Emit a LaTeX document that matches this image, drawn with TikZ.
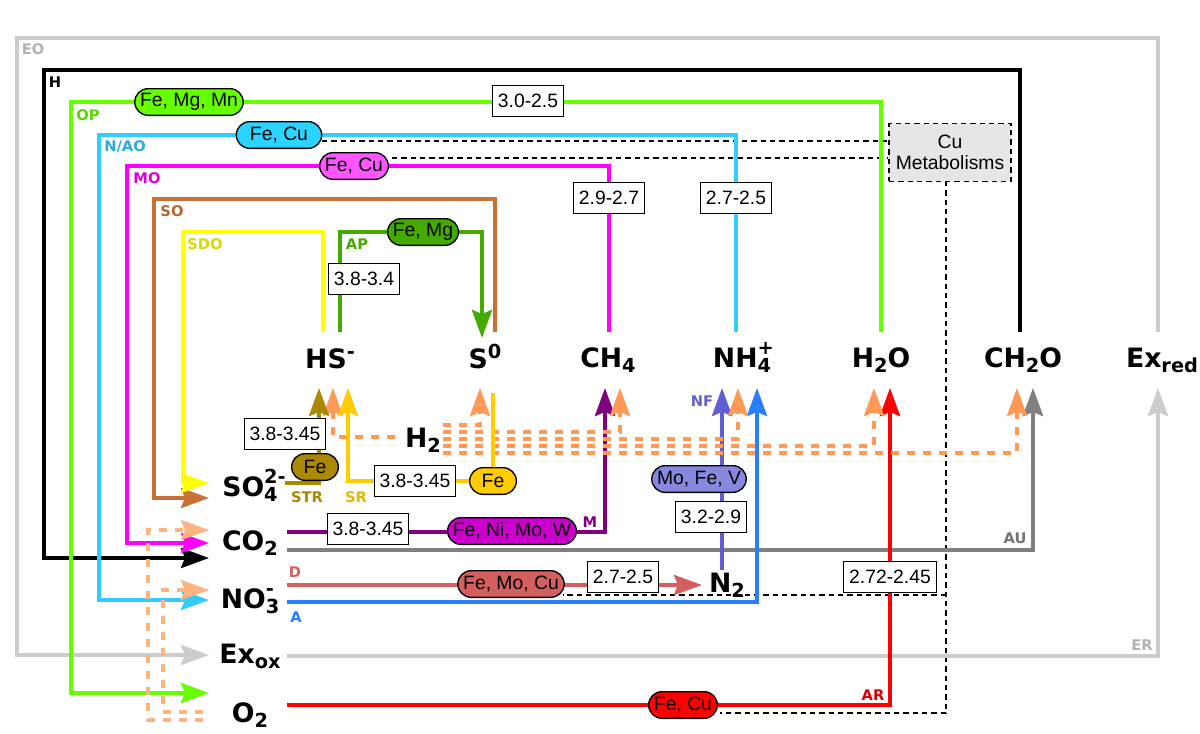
\documentclass[tikz,border=0pt]{standalone}
\usepackage{fontspec}
\setmainfont{Liberation Sans}
\newfontfamily\dejavu{DejaVu Sans}
\usetikzlibrary{arrows.meta}
\definecolor{cEO}{HTML}{CCCCCC}
\definecolor{cOP}{HTML}{66FF00}
\definecolor{cNAO}{HTML}{33CCFF}
\definecolor{cMO}{HTML}{FF00FF}
\definecolor{cSO}{HTML}{C87137}
\definecolor{cSDO}{HTML}{FFFF00}
\definecolor{cAP}{HTML}{44AA00}
\definecolor{cSTR}{HTML}{AA8800}
\definecolor{cSR}{HTML}{FFCC00}
\definecolor{cM}{HTML}{800080}
\definecolor{cMpill}{HTML}{CC00CC}
\definecolor{cAU}{HTML}{808080}
\definecolor{cD}{HTML}{D35F5F}
\definecolor{cA}{HTML}{2A7FFF}
\definecolor{cNF}{HTML}{5F5FD3}
\definecolor{cNFpill}{HTML}{8787DE}
\definecolor{cAR}{HTML}{FF0000}
\definecolor{cHtwo}{HTML}{FF9955}
\definecolor{cLt}{HTML}{FFB380}
\definecolor{cCyanPill}{HTML}{2AD4FF}
\definecolor{cMagPill}{HTML}{FF55FF}
\definecolor{cCu}{HTML}{E6E6E6}
\newcommand{\chdn}[1]{\raisebox{-4pt}{\fontsize{14.5}{14.5}\selectfont #1}}
\newcommand{\chup}[1]{\raisebox{7pt}{\fontsize{14.5}{14.5}\selectfont #1}}
\newcommand{\chhi}[1]{\raisebox{9.5pt}{\fontsize{14.5}{14.5}\selectfont #1}}
\newcommand{\chud}[2]{\makebox[0pt][l]{\chhi{#1}}\chdn{#2}}
\tikzset{
  ln/.style={line width=3pt},
  arw/.style={-{Stealth[length=21pt,width=15pt,inset=3pt]}},
  h2d/.style={cHtwo, line width=2.6pt, dash pattern=on 6pt off 6pt},
  ltd/.style={cLt, line width=2.6pt, dash pattern=on 6pt off 6pt},
  cud/.style={draw=black, line width=0.9pt, dash pattern=on 4pt off 3pt},
  box/.style={draw, fill=white, line width=1pt, font=\fontsize{14.5}{14.5}\selectfont, inner xsep=4pt, inner ysep=0pt, minimum height=23pt},
  pill/.style={draw, line width=1pt, rounded corners=10pt, font=\fontsize{14.5}{14.5}\selectfont, inner xsep=4pt, inner ysep=0pt, minimum height=20pt},
  sp/.style={font=\dejavu\bfseries\fontsize{20}{20}\selectfont, inner sep=0pt, anchor=base},
  lab/.style={font=\dejavu\bfseries\fontsize{11}{11}\selectfont, inner sep=0pt}
}
\begin{document}
\begin{tikzpicture}[x=0.75pt,y=-0.75pt]
\useasboundingbox (0,0) rectangle (1200,733);
\fill[white] (0,0) rectangle (1200,733);

% species
\node[sp] (hs) at (330,368) {HS\chup{-}};
\node[sp] (s0) at (485,368) {S\chup{0}};
\node[sp] (ch4) at (608,367) {CH\chdn{4}};
\node[sp] (nh4) at (742,367) {NH\chud{+}{4}};
\node[sp] (h2o) at (881,367) {H\chdn{2}O};
\node[sp] (ch2o) at (1023,367) {CH\chdn{2}O};
\node[sp] (exred) at (1162,367) {Ex\chdn{red}};
\node[sp] (h2) at (423,447) {H\chdn{2}};
\node[sp] (so4) at (250,496) {SO\chud{2-}{4}};
\node[sp] (co2) at (250,550) {CO\chdn{2}};
\node[sp] (no3) at (250,608) {NO\chud{-}{3}};
\node[sp] (exox) at (250,663) {Ex\chdn{ox}};
\node[sp] (o2) at (250,722) {O\chdn{2}};
\node[sp] (n2) at (727,592) {N\chdn{2}};

% Cu metabolism dashed links
\node[cud, fill=cCu, minimum width=91.5pt, minimum height=43pt, align=center, font=\fontsize{14.5}{16}\selectfont, inner sep=0pt] (cu) at (950,152.5) {Cu\\Metabolisms};
\draw[cud] (322,141) -- (cu.west |- 0,141);
\draw[cud] (392,158) -- (cu.west |- 0,158);
\draw[cud] (946,181) -- (946,713) -- (720,713);
\draw[cud] (946,595) -- (563,595);

% big loops
\draw[ln, cEO, arw] (1158,332) -- (1158,38) -- (17,38) -- (17,655) -- (209,655);
\draw[ln, cEO, arw] (287,656) -- (1158,656) -- (1158,388);
\draw[ln, black, arw] (1020,332) -- (1020,70) -- (44,70) -- (44,558) -- (209,558);
\draw[ln, cOP, arw] (881,332) -- (881,102) -- (71,102) -- (71,693) -- (209,693);
\draw[ln, cNAO, arw] (736,332) -- (736,135) -- (99,135) -- (99,600) -- (209,600);
\draw[ln, cMO, arw] (609,332) -- (609,166) -- (127,166) -- (127,543) -- (209,543);
\draw[ln, cSO, arw] (495,332) -- (495,199) -- (154,199) -- (154,498) -- (209,498);
\draw[ln, cSDO, arw] (323,332) -- (323,232) -- (183,232) -- (183,483) -- (209,483);
\draw[ln, cAP, arw] (340,332) -- (340,232) -- (482,232) -- (482,338);

% lower reactions
\draw[ln, cAU, arw] (287,550) -- (1033,550) -- (1033,388);
\draw[ln, cM, arw] (287,532) -- (605,532) -- (605,388);
\draw[ln, cD, arw] (287,585) -- (702,585);
\draw[ln, cA, arw] (287,602) -- (757,602) -- (757,388);
\draw[ln, cNF, arw] (722,570) -- (722,388);
\draw[ln, cAR, arw] (287,705) -- (890,705) -- (890,388);

% H2 dashed
\draw[h2d, arw] (395,437) -- (333,437) -- (333,388);
\draw[h2d, arw] (443,425) -- (480,425) -- (480,388);
\draw[h2d, arw] (443,432) -- (620,432) -- (620,388);
\draw[h2d, arw] (443,439) -- (738,439) -- (738,388);
\draw[h2d, arw] (443,446) -- (874,446) -- (874,388);
\draw[h2d, arw] (443,453) -- (1017,453) -- (1017,388);
\draw[ltd, arw] (203,720) -- (148,720) -- (148,530) -- (209,530);
\draw[ltd, arw] (203,712) -- (163,712) -- (163,590) -- (209,590);

% sulfate reductions
\draw[ln, cSTR, arw] (285,483) -- (319,483) -- (319,388);
\draw[ln, cSR, arw] (493,393) -- (493,481) -- (348,481) -- (348,388);

% boxes
\node[box] (b1) at (528,101) {3.0-2.5};
\node[box] (b2) at (609,198) {2.9-2.7};
\node[box] (b3) at (736,198) {2.7-2.5};
\node[box] (b4) at (364,279) {3.8-3.4};
\node[box] (b5) at (285,434) {3.8-3.45};
\node[box] (b6) at (415,481) {3.8-3.45};
\node[box] (b7) at (368,529) {3.8-3.45};
\node[box] (b8) at (711,517) {3.2-2.9};
\node[box] (b9) at (623,577) {2.7-2.5};
\node[box] (b10) at (890,577) {2.72-2.45};

% pills
\node[pill, fill=cOP] (p1) at (189,102) {Fe, Mg, Mn};
\node[pill, fill=cCyanPill, minimum width=64pt] (p2) at (279,135) {Fe, Cu};
\node[pill, fill=cMagPill] (p3) at (354,166) {Fe, Cu};
\node[pill, fill=cAP] (p4) at (423,232) {Fe, Mg};
\node[pill, fill=cSTR, minimum width=35pt] (p5) at (315,467) {Fe};
\node[pill, fill=cSR, minimum width=35pt] (p6) at (493,481) {Fe};
\node[pill, fill=cMpill] (p7) at (512,531) {Fe, Ni, Mo, W};
\node[pill, fill=cNFpill] (p8) at (699,479) {Mo, Fe, V};
\node[pill, fill=cD] (p9) at (511,584) {Fe, Mo, Cu};
\node[pill, fill=cAR] (p10) at (683,705) {Fe, Cu};

% path labels
\node[lab, text=black!30] at (33,49) {EO};
\node[lab, text=black] at (55,82) {H};
\node[lab, text=cOP!85!black] at (88,115) {OP};
\node[lab, text=cNAO!85!black] at (125,147) {N/AO};
\node[lab, text=cMO!85!black] at (147,178) {MO};
\node[lab, text=cSO!90!black] at (172,211) {SO};
\node[lab, text=cSDO!85!black] at (205,244) {SDO};
\node[lab, text=cAP] at (357,244) {AP};
\node[lab, text=cSTR] at (307,497) {STR};
\node[lab, text=cSR!90!black] at (356,497) {SR};
\node[lab, text=cM] at (590,522) {M};
\node[lab, text=cNF] at (702,401) {NF};
\node[lab, text=cD] at (295,572) {D};
\node[lab, text=cA] at (296,617) {A};
\node[lab, text=cAU!90!black] at (1015,538) {AU};
\node[lab, text=black!30] at (1142,645) {ER};
\node[lab, text=cAR!85!black] at (873,695) {AR};
\end{tikzpicture}
\end{document}
